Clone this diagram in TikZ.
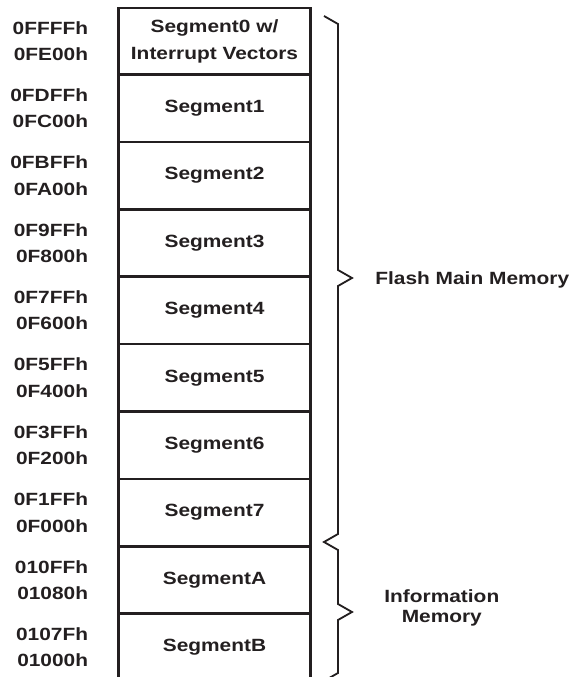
\documentclass[tikz,border=0pt]{standalone}
\usepackage{fontspec}
\setmainfont{Liberation Sans}[FakeStretch=1.18]
\usetikzlibrary{positioning}
\definecolor{ink}{HTML}{231F20}
\newdimen\mmunit \mmunit=0.5pt

\begin{document}
\begin{tikzpicture}[x=1\mmunit,y=1\mmunit,font=\fontsize{8.85}{13.25}\selectfont\bfseries,every node/.style={text=ink},
seg/.style={draw=ink,line width=2.5\mmunit,minimum width=192\mmunit,minimum height=67.4\mmunit,outer sep=0pt,inner sep=0pt,align=center},
addr/.style={inner sep=0pt,align=right,left=30\mmunit of #1},
brc/.style={draw=ink,line width=1.8\mmunit}]
\useasboundingbox (0,0) rectangle (572,677);
\clip (0,0) rectangle (572,677);
% segments
\node[seg,minimum height=66.5\mmunit,anchor=north west] (seg0) at (118.5,669) {Segment0 w/\\Interrupt Vectors};
\foreach \cur/\prev in %
{1/0,2/1,3/2,4/3,5/4,6/5,7/6,A/7,B/A} {
   \node[seg,below=0pt of seg\prev] (seg\cur) {Segment\cur};
}
% addresses
\foreach \s/\hi/\lo in %
{0/0FFFFh/0FE00h,1/0FDFFh/0FC00h,2/0FBFFh/0FA00h,3/0F9FFh/0F800h,4/0F7FFh/0F600h,
 5/0F5FFh/0F400h,6/0F3FFh/0F200h,7/0F1FFh/0F000h,A/010FFh/01080h,B/0107Fh/01000h} {
   \node[addr=seg\s] (adr\s) {\hi\\\lo};
}
% braces
\draw[brc] (324,661) -- (338,653) -- (338,407) -- (352,399) coordinate (flashtip) -- (338,391)
   -- (338,143) -- (324,135) -- (338,127) -- (338,73) -- (352,65) coordinate (infotip) -- (338,57)
   -- (338,4) -- (324,-4);
\node[inner sep=0pt,right=23\mmunit of flashtip,yshift=-2\mmunit] (flash) {Flash Main Memory};
\node[inner sep=0pt,align=center,font=\fontsize{8.85}{10}\selectfont\bfseries,right=32\mmunit of infotip,yshift=4.5\mmunit] (info) {Information\\Memory};
\end{tikzpicture}
\end{document}
